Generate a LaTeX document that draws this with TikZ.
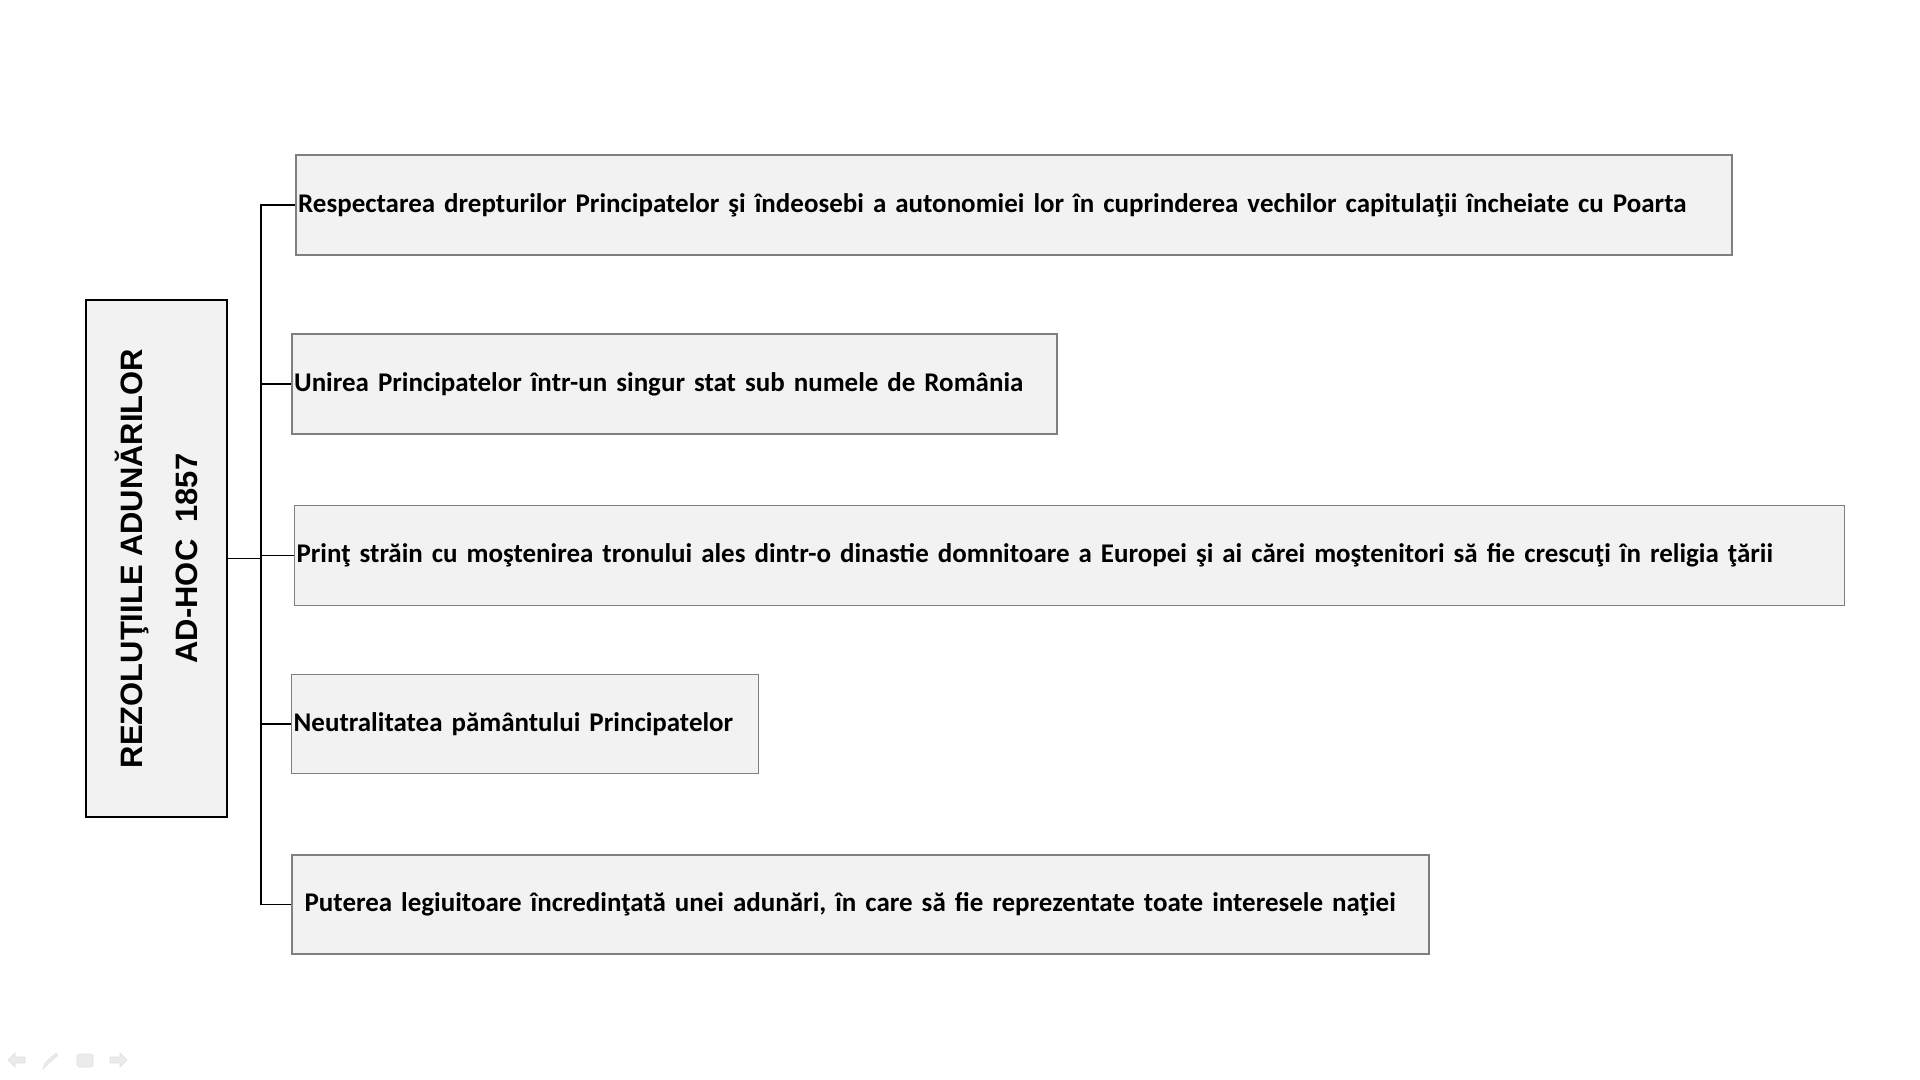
\documentclass[tikz,border=0pt]{standalone}
\usepackage{fontspec}
\setmainfont{Carlito}
\newfontfamily\headfont{Liberation Sans}
\usepackage{tikz}
\usetikzlibrary{positioning}
\usepackage{xcolor}
\definecolor{boxfill}{HTML}{F2F2F2}
\definecolor{boxline}{HTML}{7F7F7F}
\definecolor{iconfill}{HTML}{EBEBEB}
\tikzset{%
	main box/.style={
		draw=black,
		line width=1.1pt,
		fill=boxfill,
		rotate=90,
		align=center,
		minimum width=10.34cm,
		minimum height=2.82cm,
		font=\headfont\bfseries\fontsize{17.6}{31.3}\selectfont
	},
	item box/.style={
		draw=boxline,
		line width=1.3pt,
		fill=boxfill,
		anchor=west,
		align=left,
		inner xsep=0.04cm,
		minimum height=1.99cm,
		font=\bfseries\fontsize{15.35}{19}\selectfont
	},
	thin box/.style={
		item box,
		line width=0.6pt
	},
}

\begin{document}
\begin{tikzpicture}[
			link/.style={draw, line width=1.1pt},
			icon/.style={fill=iconfill, draw=black!12, line width=0.3pt}
			]
			\useasboundingbox (0,0) rectangle (38.4,-21.6);
			
			% Title box on the left
			\node[main box] (main) at (3.13,-11.17) {REZOLUŢIILE ADUNĂRILOR\\AD-HOC\ \ 1857};
			
			% The five resolutions
			\node[item box, text width=28.64cm] (r1) at (5.9,-4.1)
			{\mbox{Respectarea drepturilor Principatelor şi îndeosebi a autonomiei lor în cuprinderea vechilor capitulaţii încheiate cu Poarta}};
			\node[item box, text width=15.21cm] (r2) at (5.82,-7.68)
			{\mbox{Unirea Principatelor într-un singur stat sub numele de România}};
			\node[thin box, text width=30.92cm] (r3) at (5.88,-11.11)
			{\mbox{Prinţ străin cu moştenirea tronului ales dintr-o dinastie domnitoare a Europei şi ai cărei moştenitori să fie crescuţi în religia ţării}};
			\node[thin box, line width=0.8pt, text width=9.26cm] (r4) at (5.82,-14.48)
			{\mbox{Neutralitatea pământului Principatelor}};
			\node[item box, text width=22.66cm] (r5) at (5.82,-18.09)
			{\mbox{\hspace{0.21cm}Puterea legiuitoare încredinţată unei adunări, în care să fie reprezentate toate interesele naţiei}};
			
			% Connectors
			\coordinate (split) at (5.22,-11.17);
			\draw[link] (main.south) -- (split);
			\foreach \r in {r1,r2,r3,r4,r5}
				\draw[link] (split) |- (\r.west);
			
			% Slide controls, bottom left
			\draw[icon] (0.16,-21.2) -- (0.3,-21.06) -- (0.3,-21.14) -- (0.5,-21.14) -- (0.5,-21.26) -- (0.3,-21.26) -- (0.3,-21.34) -- cycle;
			\draw[icon] (0.86,-21.38) -- (0.9,-21.26) -- (1.12,-21.06) -- (1.16,-21.1) -- (0.94,-21.3) -- cycle;
			\draw[icon, rounded corners=1pt] (1.54,-21.08) rectangle (1.86,-21.34);
			\draw[icon] (2.54,-21.2) -- (2.4,-21.06) -- (2.4,-21.14) -- (2.2,-21.14) -- (2.2,-21.26) -- (2.4,-21.26) -- (2.4,-21.34) -- cycle;
			
		\end{tikzpicture}
\end{document}
